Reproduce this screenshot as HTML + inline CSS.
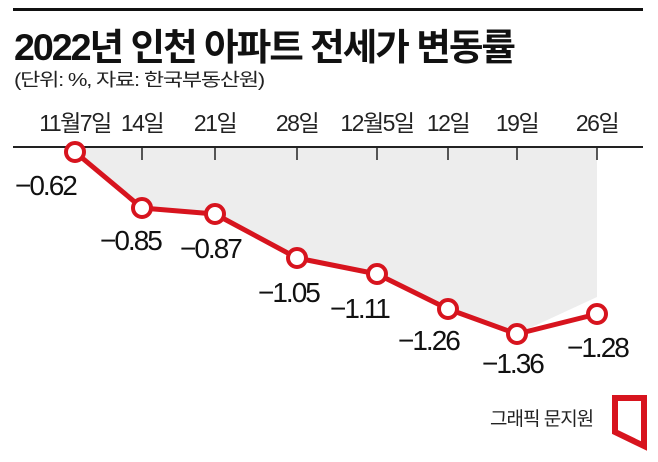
<!DOCTYPE html><html><head><meta charset="utf-8"><style>
body{margin:0;background:#fff;width:658px;height:457px;overflow:hidden}
text{font-family:"Liberation Sans","Noto Sans CJK KR",sans-serif}
</style></head><body>
<svg width="658" height="457" viewBox="0 0 658 457">
<rect x="13" y="8" width="630" height="3" fill="#111"/>
<text x="14" y="60" font-size="37" font-weight="bold" fill="#111" letter-spacing="-2" textLength="500" lengthAdjust="spacingAndGlyphs">2022년 인천 아파트 전세가 변동률</text>
<text x="14" y="86" font-size="18" fill="#222" letter-spacing="-1" textLength="250" lengthAdjust="spacingAndGlyphs">(단위: %, 자료: 한국부동산원)</text>
<g font-size="23" fill="#222" text-anchor="middle" letter-spacing="-1.5">
<text x="75" y="131">11월7일</text><text x="142" y="131">14일</text><text x="215" y="131">21일</text><text x="297" y="131">28일</text><text x="377" y="131">12월5일</text><text x="448" y="131">12일</text><text x="517" y="131">19일</text><text x="597" y="131">26일</text>
</g>
<polygon points="75,147 597,147 597,297 517,334 448,309 377,274 297,258 215,214 142,208 75,152" fill="#ededed"/>
<rect x="13" y="146" width="630" height="2" fill="#222"/>
<g stroke="#222" stroke-width="1.5"><line x1="142" y1="147" x2="142" y2="160"/><line x1="215" y1="147" x2="215" y2="160"/><line x1="297" y1="147" x2="297" y2="160"/><line x1="377" y1="147" x2="377" y2="160"/><line x1="448" y1="147" x2="448" y2="160"/><line x1="517" y1="147" x2="517" y2="160"/><line x1="597" y1="147" x2="597" y2="160"/></g>
<polyline points="75,152 142,208 215,214 297,258 377,274 448,309 517,334 597,314" fill="none" stroke="#d7141e" stroke-width="5" stroke-linejoin="round"/>
<g fill="#fff" stroke="#d7141e" stroke-width="4">
<circle cx="75" cy="152" r="9"/><circle cx="142" cy="208" r="9"/><circle cx="215" cy="214" r="9"/><circle cx="297" cy="258" r="9"/><circle cx="377" cy="274" r="9"/><circle cx="448" cy="309" r="9"/><circle cx="517" cy="334" r="9"/><circle cx="597" cy="314" r="9"/>
</g>
<g font-size="28" fill="#111" letter-spacing="-2">
<text x="15" y="195">−0.62</text><text x="100" y="250">−0.85</text><text x="180" y="258">−0.87</text><text x="258" y="302">−1.05</text><text x="330" y="318">−1.11</text><text x="398" y="350">−1.26</text><text x="482" y="373">−1.36</text><text x="567" y="357">−1.28</text>
</g>
<text x="490" y="425" font-size="19" fill="#222" letter-spacing="-1">그래픽 문지원</text>
<polygon points="615,398 644,398 644,446 615,432" fill="none" stroke="#d7141e" stroke-width="6"/>
</svg>
</body></html>
